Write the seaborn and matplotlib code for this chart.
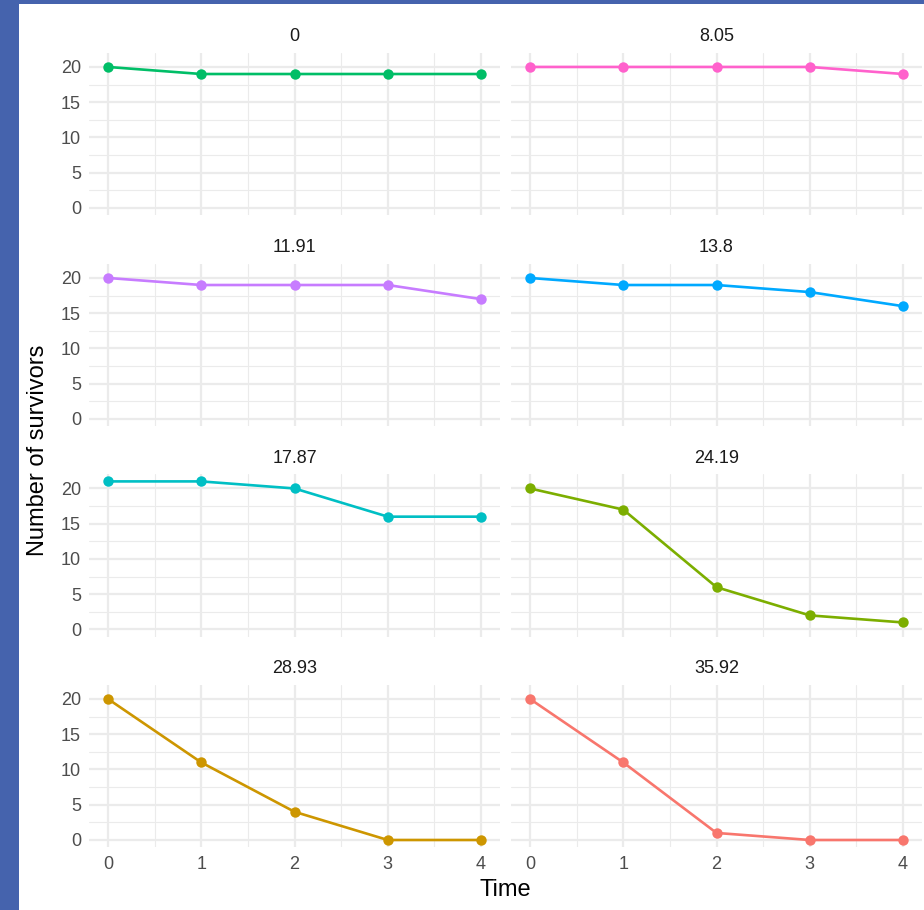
import matplotlib
matplotlib.use("Agg")
import matplotlib.pyplot as plt
from matplotlib.patches import Rectangle
from matplotlib.ticker import MultipleLocator
import numpy as np
import pandas as pd
import seaborn as sns

# Survivors counted at each time point, one series per dose
times = [0, 1, 2, 3, 4]
doses = ["0", "8.05", "11.91", "13.8", "17.87", "24.19", "28.93", "35.92"]
surv_0 = [20, 19, 19, 19, 19]
surv_8_05 = [20, 20, 20, 20, 19]
surv_11_91 = [20, 19, 19, 19, 17]
surv_13_8 = [20, 19, 19, 18, 16]
surv_17_87 = [21, 21, 20, 16, 16]
surv_24_19 = [20, 17, 6, 2, 1]
surv_28_93 = [20, 11, 4, 0, 0]
surv_35_92 = [20, 11, 1, 0, 0]
dose_colors = ["#00BE67", "#FF61CC", "#C77CFF", "#00A9FF",
               "#00BFC4", "#7CAE00", "#CD9600", "#F8766D"]

series = [surv_0, surv_8_05, surv_11_91, surv_13_8,
          surv_17_87, surv_24_19, surv_28_93, surv_35_92]
df = pd.DataFrame({
    "Time": np.tile(times, len(doses)),
    "Number of survivors": np.concatenate(series),
    "dose": np.repeat(doses, len(times)),
})

sns.set_theme(style="white")
plt.rcParams["font.family"] = ["Liberation Sans", "DejaVu Sans"]

W, H = 924, 910
g = sns.relplot(
    data=df, x="Time", y="Number of survivors", hue="dose",
    hue_order=doses, palette=dict(zip(doses, dose_colors)),
    col="dose", col_order=doses, col_wrap=2, kind="line",
    marker="o", markersize=7.5, markeredgewidth=0, linewidth=1.9,
    legend=False, height=2, aspect=1,
    facet_kws=dict(sharex=True, sharey=True),
)
fig = g.figure
fig.set_size_inches(W / 100, H / 100)
fig.set_dpi(100)

# Frame around the plotting area
fig.patch.set_facecolor("#4563AD")
fig.add_artist(Rectangle((19 / W, 0), 1 - 19 / W, 1 - 4 / H,
                         transform=fig.transFigure, facecolor="white",
                         edgecolor="none", zorder=-10))

col_x = [89.35, 511.35]
row_top = [52.5, 263.5, 474.0, 684.5]
pw, ph = 410.3, 162.9

for i, (ax, d) in enumerate(zip(g.axes.flat, doses)):
    r, c = divmod(i, 2)
    ax.set_position([col_x[c] / W, 1 - (row_top[r] + ph) / H, pw / W, ph / H])
    ax.set_facecolor("none")
    ax.set_xlim(-0.2, 4.2)
    ax.set_ylim(-1.05, 22.05)
    ax.xaxis.set_major_locator(MultipleLocator(1))
    ax.xaxis.set_minor_locator(MultipleLocator(0.5))
    ax.yaxis.set_major_locator(MultipleLocator(5))
    ax.yaxis.set_minor_locator(MultipleLocator(2.5))
    ax.grid(which="major", color="#EBEBEB", linewidth=1.6)
    ax.grid(which="minor", color="#EBEBEB", linewidth=0.8)
    ax.set_axisbelow(True)
    for s in ax.spines.values():
        s.set_visible(False)
    ax.tick_params(which="both", length=0, labelsize=13, labelcolor="#4D4D4D", pad=6)
    ax.set_title(d, fontsize=13, color="#1A1A1A", pad=8)
    ax.set_xlabel("")
    ax.set_ylabel("")
    if c == 1:
        ax.tick_params(labelleft=False)
    if r < 3:
        ax.tick_params(labelbottom=False)
    else:
        ax.tick_params(labelbottom=True)

fig.text(505 / W, 1 - 890 / H, "Time", ha="center", va="center",
         fontsize=17, color="black")
fig.text(38 / W, 1 - 450 / H, "Number of survivors", ha="center",
         va="center", rotation=90, fontsize=17, color="black")

fig.savefig("out.png", dpi=100, facecolor=fig.get_facecolor())
